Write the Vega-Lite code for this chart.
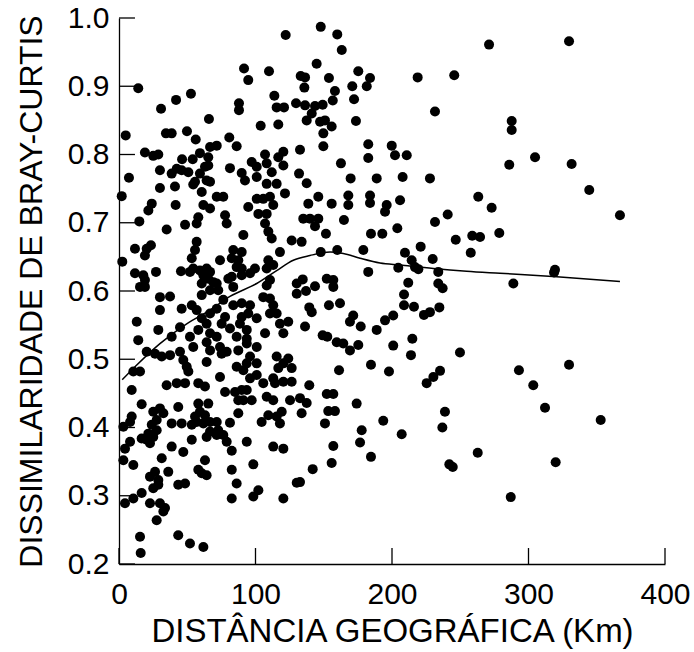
{
  "$schema": "https://vega.github.io/schema/vega-lite/v6.json",
  "width": 546,
  "height": 546,
  "autosize": {"type": "none"},
  "padding": {"left": 119, "top": 18, "right": 29, "bottom": 88},
  "background": "white",
  "config": {
    "view": {"stroke": null},
    "font": "Liberation Sans",
    "axis": {
      "grid": false,
      "ticks": false,
      "domainColor": "black",
      "domainWidth": 1.3,
      "labelColor": "black",
      "labelFont": "Liberation Sans",
      "labelFontSize": 30,
      "labelOverlap": false,
      "labelFlush": false,
      "titleColor": "black",
      "titleFont": "Liberation Sans",
      "titleFontWeight": "normal"
    },
    "axisX": {"labelPadding": 15, "titleFontSize": 33, "titlePadding": 6},
    "axisY": {"labelPadding": 10, "titleFontSize": 32, "titlePadding": 19}
  },
  "datasets": {
    "pontos": [
      {"d":122.1,"b":0.975},{"d":91.6,"b":0.926},{"d":94.7,"b":0.909},{"d":109.9,"b":0.922},{"d":133.1,"b":0.915},
      {"d":136.3,"b":0.913},{"d":135.8,"b":0.898},{"d":14.1,"b":0.897},{"d":52.7,"b":0.889},{"d":41.8,"b":0.880},
      {"d":113.8,"b":0.886},{"d":30.8,"b":0.867},{"d":87.9,"b":0.875},{"d":87.9,"b":0.865},{"d":115.5,"b":0.869},
      {"d":120.9,"b":0.869},{"d":129.7,"b":0.875},{"d":136.3,"b":0.872},{"d":137.5,"b":0.850},{"d":65.9,"b":0.852},
      {"d":103.8,"b":0.842},{"d":116.7,"b":0.844},{"d":4.9,"b":0.828},{"d":34.4,"b":0.831},{"d":38.6,"b":0.831},
      {"d":49.8,"b":0.834},{"d":56.2,"b":0.822},{"d":80.8,"b":0.825},{"d":86.2,"b":0.812},{"d":19.0,"b":0.803},
      {"d":25.1,"b":0.798},{"d":28.8,"b":0.800},{"d":46.2,"b":0.793},{"d":54.0,"b":0.793},{"d":59.3,"b":0.802},
      {"d":66.7,"b":0.811},{"d":71.6,"b":0.813},{"d":65.4,"b":0.796},{"d":107.0,"b":0.800},{"d":120.4,"b":0.804},
      {"d":116.7,"b":0.796},{"d":132.6,"b":0.807},{"d":7.3,"b":0.766},{"d":30.0,"b":0.777},{"d":38.6,"b":0.772},
      {"d":42.3,"b":0.779},{"d":45.9,"b":0.777},{"d":50.8,"b":0.774},{"d":55.7,"b":0.760},{"d":59.3,"b":0.772},
      {"d":63.0,"b":0.782},{"d":65.4,"b":0.784},{"d":64.2,"b":0.762},{"d":81.3,"b":0.780},{"d":89.9,"b":0.773},
      {"d":92.3,"b":0.762},{"d":97.2,"b":0.789},{"d":100.9,"b":0.782},{"d":100.9,"b":0.767},{"d":108.2,"b":0.787},
      {"d":111.9,"b":0.774},{"d":108.2,"b":0.757},{"d":115.5,"b":0.757},{"d":121.6,"b":0.743},{"d":120.4,"b":0.784},
      {"d":131.9,"b":0.772},{"d":137.5,"b":0.758},{"d":30.0,"b":0.751},{"d":41.0,"b":0.753},{"d":54.4,"b":0.756},
      {"d":60.6,"b":0.745},{"d":66.7,"b":0.760},{"d":2.0,"b":0.739},{"d":71.6,"b":0.738},{"d":76.4,"b":0.738},
      {"d":100.9,"b":0.735},{"d":110.6,"b":0.738},
      {"d":24.0,"b":0.728},{"d":21.5,"b":0.718},{"d":41.5,"b":0.726},{"d":61.8,"b":0.726},{"d":66.7,"b":0.721},
      {"d":77.7,"b":0.711},{"d":78.9,"b":0.699},{"d":58.1,"b":0.708},{"d":56.9,"b":0.699},{"d":14.9,"b":0.702},
      {"d":48.4,"b":0.697},{"d":34.9,"b":0.690},{"d":94.7,"b":0.723},{"d":105.7,"b":0.735},{"d":113.0,"b":0.726},
      {"d":108.2,"b":0.713},{"d":102.1,"b":0.713},{"d":107.0,"b":0.699},{"d":109.4,"b":0.687},{"d":111.9,"b":0.677},
      {"d":91.1,"b":0.682},{"d":126.5,"b":0.674},{"d":11.7,"b":0.662},{"d":20.3,"b":0.662},{"d":23.4,"b":0.667},
      {"d":19.0,"b":0.652},{"d":56.9,"b":0.672},{"d":55.7,"b":0.660},{"d":83.7,"b":0.660},{"d":89.9,"b":0.657},
      {"d":82.6,"b":0.648},{"d":87.4,"b":0.645},{"d":86.2,"b":0.635},{"d":89.9,"b":0.633},{"d":74.0,"b":0.645},
      {"d":117.9,"b":0.657},{"d":109.4,"b":0.645},{"d":108.2,"b":0.633},{"d":113.0,"b":0.638},{"d":2.4,"b":0.643},
      {"d":53.3,"b":0.648},{"d":54.4,"b":0.633},{"d":52.0,"b":0.628},{"d":59.3,"b":0.630},{"d":61.8,"b":0.623},
      {"d":64.2,"b":0.633},{"d":66.7,"b":0.628},{"d":65.4,"b":0.618},{"d":69.1,"b":0.613},{"d":71.6,"b":0.611},
      {"d":60.6,"b":0.611},{"d":66.7,"b":0.601},{"d":72.7,"b":0.601},{"d":45.4,"b":0.629},{"d":11.7,"b":0.626},
      {"d":17.8,"b":0.623},{"d":19.0,"b":0.616},{"d":27.1,"b":0.628},{"d":15.4,"b":0.606},{"d":19.0,"b":0.606},
      {"d":80.1,"b":0.618},{"d":82.6,"b":0.621},{"d":83.7,"b":0.606},{"d":89.9,"b":0.623},{"d":96.0,"b":0.626},
      {"d":99.6,"b":0.633},{"d":110.6,"b":0.616},{"d":108.2,"b":0.608},{"d":130.2,"b":0.611},{"d":130.2,"b":0.596},
      {"d":30.0,"b":0.591},{"d":37.4,"b":0.592},{"d":60.6,"b":0.594},{"d":76.4,"b":0.587},{"d":83.7,"b":0.579},
      {"d":89.9,"b":0.582},{"d":96.0,"b":0.579},{"d":94.7,"b":0.567},{"d":89.9,"b":0.562},{"d":105.7,"b":0.591},
      {"d":110.6,"b":0.589},{"d":113.0,"b":0.579},{"d":110.6,"b":0.567},{"d":115.5,"b":0.567},{"d":30.0,"b":0.572},
      {"d":45.9,"b":0.574},{"d":53.3,"b":0.579},{"d":56.9,"b":0.572},{"d":60.6,"b":0.560},{"d":66.7,"b":0.567},
      {"d":71.6,"b":0.574},{"d":77.7,"b":0.562},{"d":75.2,"b":0.552},{"d":13.0,"b":0.555},{"d":28.8,"b":0.543},
      {"d":44.7,"b":0.547},{"d":38.6,"b":0.533},{"d":52.0,"b":0.533},{"d":58.1,"b":0.543},{"d":64.2,"b":0.552},
      {"d":66.7,"b":0.538},{"d":71.6,"b":0.533},{"d":64.2,"b":0.525},{"d":81.3,"b":0.545},{"d":88.6,"b":0.552},
      {"d":93.6,"b":0.543},{"d":86.2,"b":0.533},{"d":93.6,"b":0.530},{"d":100.9,"b":0.560},{"d":107.0,"b":0.538},
      {"d":117.9,"b":0.552},{"d":124.0,"b":0.555},{"d":120.4,"b":0.538},{"d":14.1,"b":0.528},{"d":20.3,"b":0.511},
      {"d":26.4,"b":0.508},{"d":37.4,"b":0.506},{"d":31.3,"b":0.504},{"d":44.7,"b":0.511},{"d":47.1,"b":0.499},
      {"d":49.6,"b":0.489},{"d":50.8,"b":0.482},{"d":54.4,"b":0.518},{"d":64.2,"b":0.496},{"d":66.7,"b":0.513},
      {"d":74.0,"b":0.518},{"d":75.2,"b":0.508},{"d":78.9,"b":0.511},{"d":87.4,"b":0.513},{"d":93.6,"b":0.523},
      {"d":100.9,"b":0.518},{"d":96.0,"b":0.504},{"d":93.6,"b":0.494},{"d":91.1,"b":0.484},{"d":86.2,"b":0.489},
      {"d":100.9,"b":0.494},{"d":115.5,"b":0.504},{"d":120.4,"b":0.494},{"d":124.0,"b":0.501},{"d":126.5,"b":0.487},
      {"d":116.7,"b":0.487},{"d":10.5,"b":0.482},{"d":15.4,"b":0.482},{"d":74.0,"b":0.474},{"d":96.0,"b":0.472},
      {"d":100.9,"b":0.477},{"d":105.7,"b":0.465},{"d":113.0,"b":0.472},{"d":126.5,"b":0.467},
      {"d":9.3,"b":0.455},{"d":34.9,"b":0.462},{"d":42.3,"b":0.465},{"d":48.4,"b":0.465},{"d":58.1,"b":0.465},
      {"d":63.0,"b":0.460},{"d":77.7,"b":0.452},{"d":85.0,"b":0.452},{"d":89.9,"b":0.455},{"d":93.6,"b":0.455},
      {"d":87.4,"b":0.440},{"d":91.1,"b":0.440},{"d":97.2,"b":0.440},{"d":108.2,"b":0.445},{"d":113.0,"b":0.440},
      {"d":114.3,"b":0.465},{"d":120.4,"b":0.467},{"d":125.3,"b":0.440},{"d":16.6,"b":0.434},{"d":25.1,"b":0.423},
      {"d":30.0,"b":0.428},{"d":32.5,"b":0.421},{"d":27.6,"b":0.411},{"d":24.0,"b":0.404},{"d":27.6,"b":0.396},
      {"d":21.5,"b":0.391},{"d":25.1,"b":0.386},{"d":43.4,"b":0.430},{"d":58.1,"b":0.435},{"d":65.4,"b":0.435},
      {"d":59.3,"b":0.423},{"d":63.0,"b":0.418},{"d":55.7,"b":0.416},{"d":56.9,"b":0.408},{"d":53.3,"b":0.404},
      {"d":61.8,"b":0.406},{"d":66.7,"b":0.408},{"d":38.6,"b":0.406},{"d":45.9,"b":0.406},{"d":9.3,"b":0.416},
      {"d":8.1,"b":0.408},{"d":3.2,"b":0.401},{"d":71.6,"b":0.408},{"d":72.7,"b":0.396},{"d":66.7,"b":0.394},
      {"d":64.2,"b":0.386},{"d":71.6,"b":0.389},{"d":81.3,"b":0.407},{"d":87.4,"b":0.421},{"d":104.5,"b":0.408},
      {"d":109.4,"b":0.418},{"d":115.5,"b":0.416},{"d":119.2,"b":0.423},{"d":117.9,"b":0.406},{"d":76.4,"b":0.389},
      {"d":78.9,"b":0.379},{"d":16.6,"b":0.384},{"d":20.3,"b":0.382},{"d":22.7,"b":0.377},{"d":8.1,"b":0.379},
      {"d":4.4,"b":0.369},{"d":3.2,"b":0.352},{"d":10.5,"b":0.345},{"d":53.3,"b":0.382},{"d":38.6,"b":0.372},
      {"d":47.1,"b":0.364},{"d":31.3,"b":0.355},{"d":63.0,"b":0.352},{"d":82.6,"b":0.366},{"d":93.6,"b":0.379},
      {"d":113.0,"b":0.372},{"d":120.4,"b":0.369},{"d":98.4,"b":0.346},{"d":26.4,"b":0.335},{"d":22.7,"b":0.328},
      {"d":28.8,"b":0.323},{"d":25.1,"b":0.311},{"d":28.8,"b":0.316},{"d":36.1,"b":0.335},{"d":58.1,"b":0.338},
      {"d":64.2,"b":0.330},{"d":60.6,"b":0.333},{"d":82.6,"b":0.338},{"d":86.2,"b":0.318},{"d":43.4,"b":0.316},
      {"d":48.4,"b":0.318},{"d":16.6,"b":0.304},{"d":10.5,"b":0.296},{"d":4.4,"b":0.289},{"d":22.7,"b":0.289},
      {"d":30.0,"b":0.289},{"d":33.7,"b":0.282},{"d":32.5,"b":0.277},{"d":27.6,"b":0.264},{"d":82.6,"b":0.296},
      {"d":98.4,"b":0.299},{"d":102.1,"b":0.308},{"d":120.4,"b":0.296},{"d":130.2,"b":0.319},{"d":15.4,"b":0.240},
      {"d":43.4,"b":0.242},{"d":52.0,"b":0.230},{"d":61.8,"b":0.225},{"d":15.9,"b":0.216},
      {"d":147.8,"b":0.987},{"d":159.9,"b":0.976},{"d":163.2,"b":0.953},{"d":271.1,"b":0.961},{"d":144.8,"b":0.933},
      {"d":175.3,"b":0.922},{"d":183.9,"b":0.912},{"d":181.5,"b":0.900},{"d":170.9,"b":0.900},{"d":172.2,"b":0.881},
      {"d":218.8,"b":0.913},{"d":245.6,"b":0.916},{"d":153.8,"b":0.912},{"d":158.2,"b":0.893},{"d":156.6,"b":0.879},
      {"d":143.6,"b":0.871},{"d":149.2,"b":0.873},{"d":141.2,"b":0.860},{"d":147.3,"b":0.848},{"d":150.9,"b":0.850},
      {"d":155.8,"b":0.841},{"d":149.7,"b":0.831},{"d":231.5,"b":0.863},{"d":173.6,"b":0.849},{"d":149.7,"b":0.812},
      {"d":182.6,"b":0.815},{"d":182.6,"b":0.795},{"d":199.8,"b":0.813},{"d":202.2,"b":0.799},{"d":210.8,"b":0.799},
      {"d":162.6,"b":0.787},{"d":169.7,"b":0.765},{"d":188.8,"b":0.765},{"d":207.8,"b":0.767},{"d":227.8,"b":0.765},
      {"d":146.0,"b":0.738},{"d":138.7,"b":0.728},{"d":155.8,"b":0.728},{"d":168.0,"b":0.740},{"d":168.0,"b":0.726},
      {"d":183.9,"b":0.740},{"d":183.9,"b":0.729},{"d":196.1,"b":0.726},{"d":194.9,"b":0.716},{"d":205.9,"b":0.733},
      {"d":263.2,"b":0.738},{"d":273.0,"b":0.722},{"d":135.0,"b":0.706},{"d":139.9,"b":0.706},{"d":146.0,"b":0.706},
      {"d":143.6,"b":0.695},{"d":164.8,"b":0.704},{"d":151.6,"b":0.684},{"d":184.6,"b":0.684},{"d":192.9,"b":0.684},
      {"d":203.9,"b":0.692},{"d":231.5,"b":0.701},{"d":240.8,"b":0.712},{"d":246.7,"b":0.675},{"d":258.8,"b":0.681},
      {"d":264.5,"b":0.679},{"d":278.6,"b":0.685},{"d":133.8,"b":0.672},{"d":147.8,"b":0.657},{"d":159.9,"b":0.660},
      {"d":179.0,"b":0.660},{"d":209.5,"b":0.656},{"d":214.4,"b":0.645},{"d":221.0,"b":0.665},{"d":229.8,"b":0.647},
      {"d":257.7,"b":0.656},{"d":216.8,"b":0.635},{"d":219.3,"b":0.632},{"d":204.6,"b":0.634},{"d":182.6,"b":0.628},
      {"d":233.9,"b":0.628},{"d":134.6,"b":0.617},{"d":152.2,"b":0.618},{"d":157.0,"b":0.616},{"d":157.0,"b":0.606},
      {"d":143.6,"b":0.607},{"d":137.0,"b":0.600},{"d":211.9,"b":0.612},{"d":233.9,"b":0.611},{"d":237.1,"b":0.604},
      {"d":208.8,"b":0.595},{"d":139.4,"b":0.576},{"d":141.2,"b":0.569},{"d":153.8,"b":0.579},{"d":161.9,"b":0.582},
      {"d":208.8,"b":0.579},{"d":216.1,"b":0.577},{"d":200.9,"b":0.564},{"d":194.9,"b":0.557},{"d":223.4,"b":0.565},
      {"d":227.8,"b":0.569},{"d":234.7,"b":0.576},{"d":171.6,"b":0.564},{"d":169.2,"b":0.555},{"d":177.1,"b":0.548},
      {"d":136.3,"b":0.548},{"d":188.8,"b":0.543},{"d":149.2,"b":0.535},{"d":152.6,"b":0.533},{"d":159.5,"b":0.525},
      {"d":164.3,"b":0.523},{"d":169.2,"b":0.513},{"d":175.3,"b":0.521},{"d":214.9,"b":0.530},{"d":200.9,"b":0.520},
      {"d":249.8,"b":0.510},{"d":213.9,"b":0.506},{"d":184.6,"b":0.492},{"d":197.8,"b":0.482},{"d":161.2,"b":0.484},
      {"d":235.2,"b":0.483},{"d":230.3,"b":0.474},{"d":225.4,"b":0.465},
      {"d":139.4,"b":0.462},{"d":132.6,"b":0.443},{"d":137.5,"b":0.436},{"d":133.8,"b":0.421},{"d":152.2,"b":0.449},
      {"d":157.0,"b":0.449},{"d":153.3,"b":0.424},{"d":158.2,"b":0.424},{"d":150.9,"b":0.406},{"d":174.1,"b":0.435},
      {"d":177.8,"b":0.396},{"d":176.6,"b":0.378},{"d":193.6,"b":0.410},{"d":207.1,"b":0.390},{"d":238.8,"b":0.423},
      {"d":236.9,"b":0.400},{"d":157.0,"b":0.373},{"d":155.8,"b":0.348},{"d":184.6,"b":0.357},{"d":141.9,"b":0.339},
      {"d":132.6,"b":0.320},{"d":242.0,"b":0.346},{"d":244.5,"b":0.342},{"d":262.8,"b":0.363},
      {"d":329.7,"b":0.966},{"d":287.7,"b":0.849},{"d":287.7,"b":0.836},{"d":285.9,"b":0.785},{"d":304.8,"b":0.796},
      {"d":331.6,"b":0.786},{"d":344.5,"b":0.748},{"d":367.0,"b":0.711},{"d":319.4,"b":0.631},{"d":318.7,"b":0.627},
      {"d":288.9,"b":0.611},{"d":293.0,"b":0.484},{"d":329.7,"b":0.492},{"d":303.5,"b":0.462},{"d":312.1,"b":0.429},
      {"d":352.9,"b":0.411},{"d":319.9,"b":0.349},{"d":287.0,"b":0.298}
    ],
    "curva": [
      {"d":2.4,"b":0.470},{"d":11.7,"b":0.489},{"d":30.0,"b":0.523},{"d":49.6,"b":0.552},{"d":66.7,"b":0.572},
      {"d":81.3,"b":0.592},{"d":100.9,"b":0.611},{"d":115.5,"b":0.630},{"d":127.7,"b":0.645},{"d":139.9,"b":0.652},
      {"d":154.6,"b":0.657},{"d":164.3,"b":0.655},{"d":176.6,"b":0.648},{"d":191.2,"b":0.641},{"d":205.9,"b":0.638},
      {"d":230.3,"b":0.633},{"d":254.7,"b":0.629},{"d":279.1,"b":0.626},{"d":320.7,"b":0.621},{"d":367.0,"b":0.614}
    ],
    "marcas_x": [{"v":0},{"v":100},{"v":200},{"v":300},{"v":400}],
    "marcas_y": [{"v":0.2},{"v":0.3},{"v":0.4},{"v":0.5},{"v":0.6},{"v":0.7},{"v":0.8},{"v":0.9},{"v":1.0}]
  },
  "layer": [
    {
      "data": {"name": "pontos"},
      "mark": {"type": "circle", "size": 100, "color": "black", "opacity": 1},
      "encoding": {
        "x": {
          "field": "d",
          "type": "quantitative",
          "title": "DISTÂNCIA GEOGRÁFICA (Km)",
          "scale": {"domain": [0, 400], "nice": false, "zero": false},
          "axis": {
            "orient": "bottom",
            "title": "DISTÂNCIA GEOGRÁFICA (Km)",
            "values": [0, 100, 200, 300, 400],
            "format": "d",
            "ticks": false
          }
        },
        "y": {
          "field": "b",
          "type": "quantitative",
          "title": "DISSIMILARIDADE DE BRAY-CURTIS",
          "scale": {"domain": [0.2, 1.0], "nice": false, "zero": false},
          "axis": {
            "orient": "left",
            "title": "DISSIMILARIDADE DE BRAY-CURTIS",
            "values": [0.2, 0.3, 0.4, 0.5, 0.6, 0.7, 0.8, 0.9, 1.0],
            "format": ".1f",
            "ticks": false
          }
        }
      }
    },
    {
      "data": {"name": "curva"},
      "mark": {"type": "line", "color": "black", "strokeWidth": 1.5, "interpolate": "monotone"},
      "encoding": {
        "x": {"field": "d", "type": "quantitative", "title": "DISTÂNCIA GEOGRÁFICA (Km)"},
        "y": {"field": "b", "type": "quantitative", "title": "DISSIMILARIDADE DE BRAY-CURTIS"}
      }
    },
    {
      "data": {"name": "marcas_x"},
      "mark": {"type": "rule", "color": "black", "strokeWidth": 1.3},
      "encoding": {
        "x": {"field": "v", "type": "quantitative", "title": "DISTÂNCIA GEOGRÁFICA (Km)"},
        "y": {"datum": 0.2, "type": "quantitative", "title": "DISSIMILARIDADE DE BRAY-CURTIS"},
        "y2": {"datum": 0.2234}
      }
    },
    {
      "data": {"name": "marcas_y"},
      "mark": {"type": "rule", "color": "black", "strokeWidth": 1.3},
      "encoding": {
        "y": {"field": "v", "type": "quantitative", "title": "DISSIMILARIDADE DE BRAY-CURTIS"},
        "x": {"datum": 0, "type": "quantitative", "title": "DISTÂNCIA GEOGRÁFICA (Km)"},
        "x2": {"datum": 11.7}
      }
    }
  ]
}
